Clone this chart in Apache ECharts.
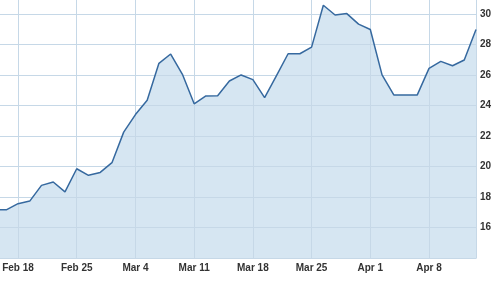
<!DOCTYPE html>
<html>
<head>
<meta charset="utf-8">
<script src="https://cdn.jsdelivr.net/npm/echarts@6/dist/echarts.min.js"></script>
<style>html,body{margin:0;padding:0;background:#fff}#c{width:500px;height:283px}</style>
</head>
<body>
<div id="c"></div>
<script>
var dates = ['Feb 14','Feb 15',
  'Feb 18','Feb 19','Feb 20','Feb 21','Feb 22',
  'Feb 25','Feb 26','Feb 27','Feb 28','Mar 1',
  'Mar 4','Mar 5','Mar 6','Mar 7','Mar 8',
  'Mar 11','Mar 12','Mar 13','Mar 14','Mar 15',
  'Mar 18','Mar 19','Mar 20','Mar 21','Mar 22',
  'Mar 25','Mar 26','Mar 27','Mar 28','Mar 29',
  'Apr 1','Apr 2','Apr 3','Apr 4','Apr 5',
  'Apr 8','Apr 9','Apr 10','Apr 11','Apr 12'];
var prices = [17.15,17.16,
  17.56,17.73,18.76,18.98,18.33,
  19.85,19.42,19.61,20.25,22.25,
  23.40,24.34,26.76,27.37,26.04,
  24.11,24.62,24.64,25.60,26.00,
  25.69,24.51,25.94,27.39,27.39,
  27.82,30.57,29.93,30.02,29.33,
  28.98,26.00,24.69,24.69,24.69,
  26.43,26.89,26.60,26.98,28.98];
var yTicks = [16,18,20,22,24,26,28,30];
var weekStarts = ['Feb 18','Feb 25','Mar 4','Mar 11','Mar 18','Mar 25','Apr 1','Apr 8'];

var gridColor = '#c6d8e7';
var labelStyle = {color:'#333', fontFamily:'Liberation Sans', fontWeight:'bold', fontSize:10};
function isWeekStart(i){ return weekStarts.indexOf(dates[i]) >= 0; }

var chart = echarts.init(document.getElementById('c'), null, {renderer:'canvas'});
chart.setOption({
  animation:false,
  grid:{left:-5.48, right:24, top:-16.6, bottom:25, containLabel:false, outerBoundsMode:'none'},
  xAxis:{
    type:'category', data:dates, boundaryGap:false, z:2,
    axisLine:{show:true, lineStyle:{color:gridColor, width:1}},
    axisTick:{show:false},
    axisLabel:Object.assign({margin:5, interval:function(i){return isWeekStart(i);}}, labelStyle),
    splitLine:{show:true, interval:function(i){return isWeekStart(i);}, lineStyle:{color:gridColor, width:1}}
  },
  yAxis:{
    type:'value', position:'right', min:14, max:32, interval:2, z:2,
    axisLine:{show:true, lineStyle:{color:gridColor, width:1}},
    axisTick:{show:false},
    axisLabel:Object.assign({margin:4, showMinLabel:false, showMaxLabel:false,
      formatter:function(v){return yTicks.indexOf(v)>=0 ? String(v) : '';}}, labelStyle),
    splitLine:{show:true, lineStyle:{color:gridColor, width:1}}
  },
  series:[{
    type:'line', data:prices, symbol:'none', smooth:false,
    lineStyle:{width:0, opacity:0},
    areaStyle:{color:'#d6e6f2', opacity:1},
    z:1, silent:true
  },{
    type:'line', data:prices, symbol:'none', smooth:false,
    lineStyle:{color:'#36699f', width:1.5},
    z:3
  }]
});
</script>
</body>
</html>
